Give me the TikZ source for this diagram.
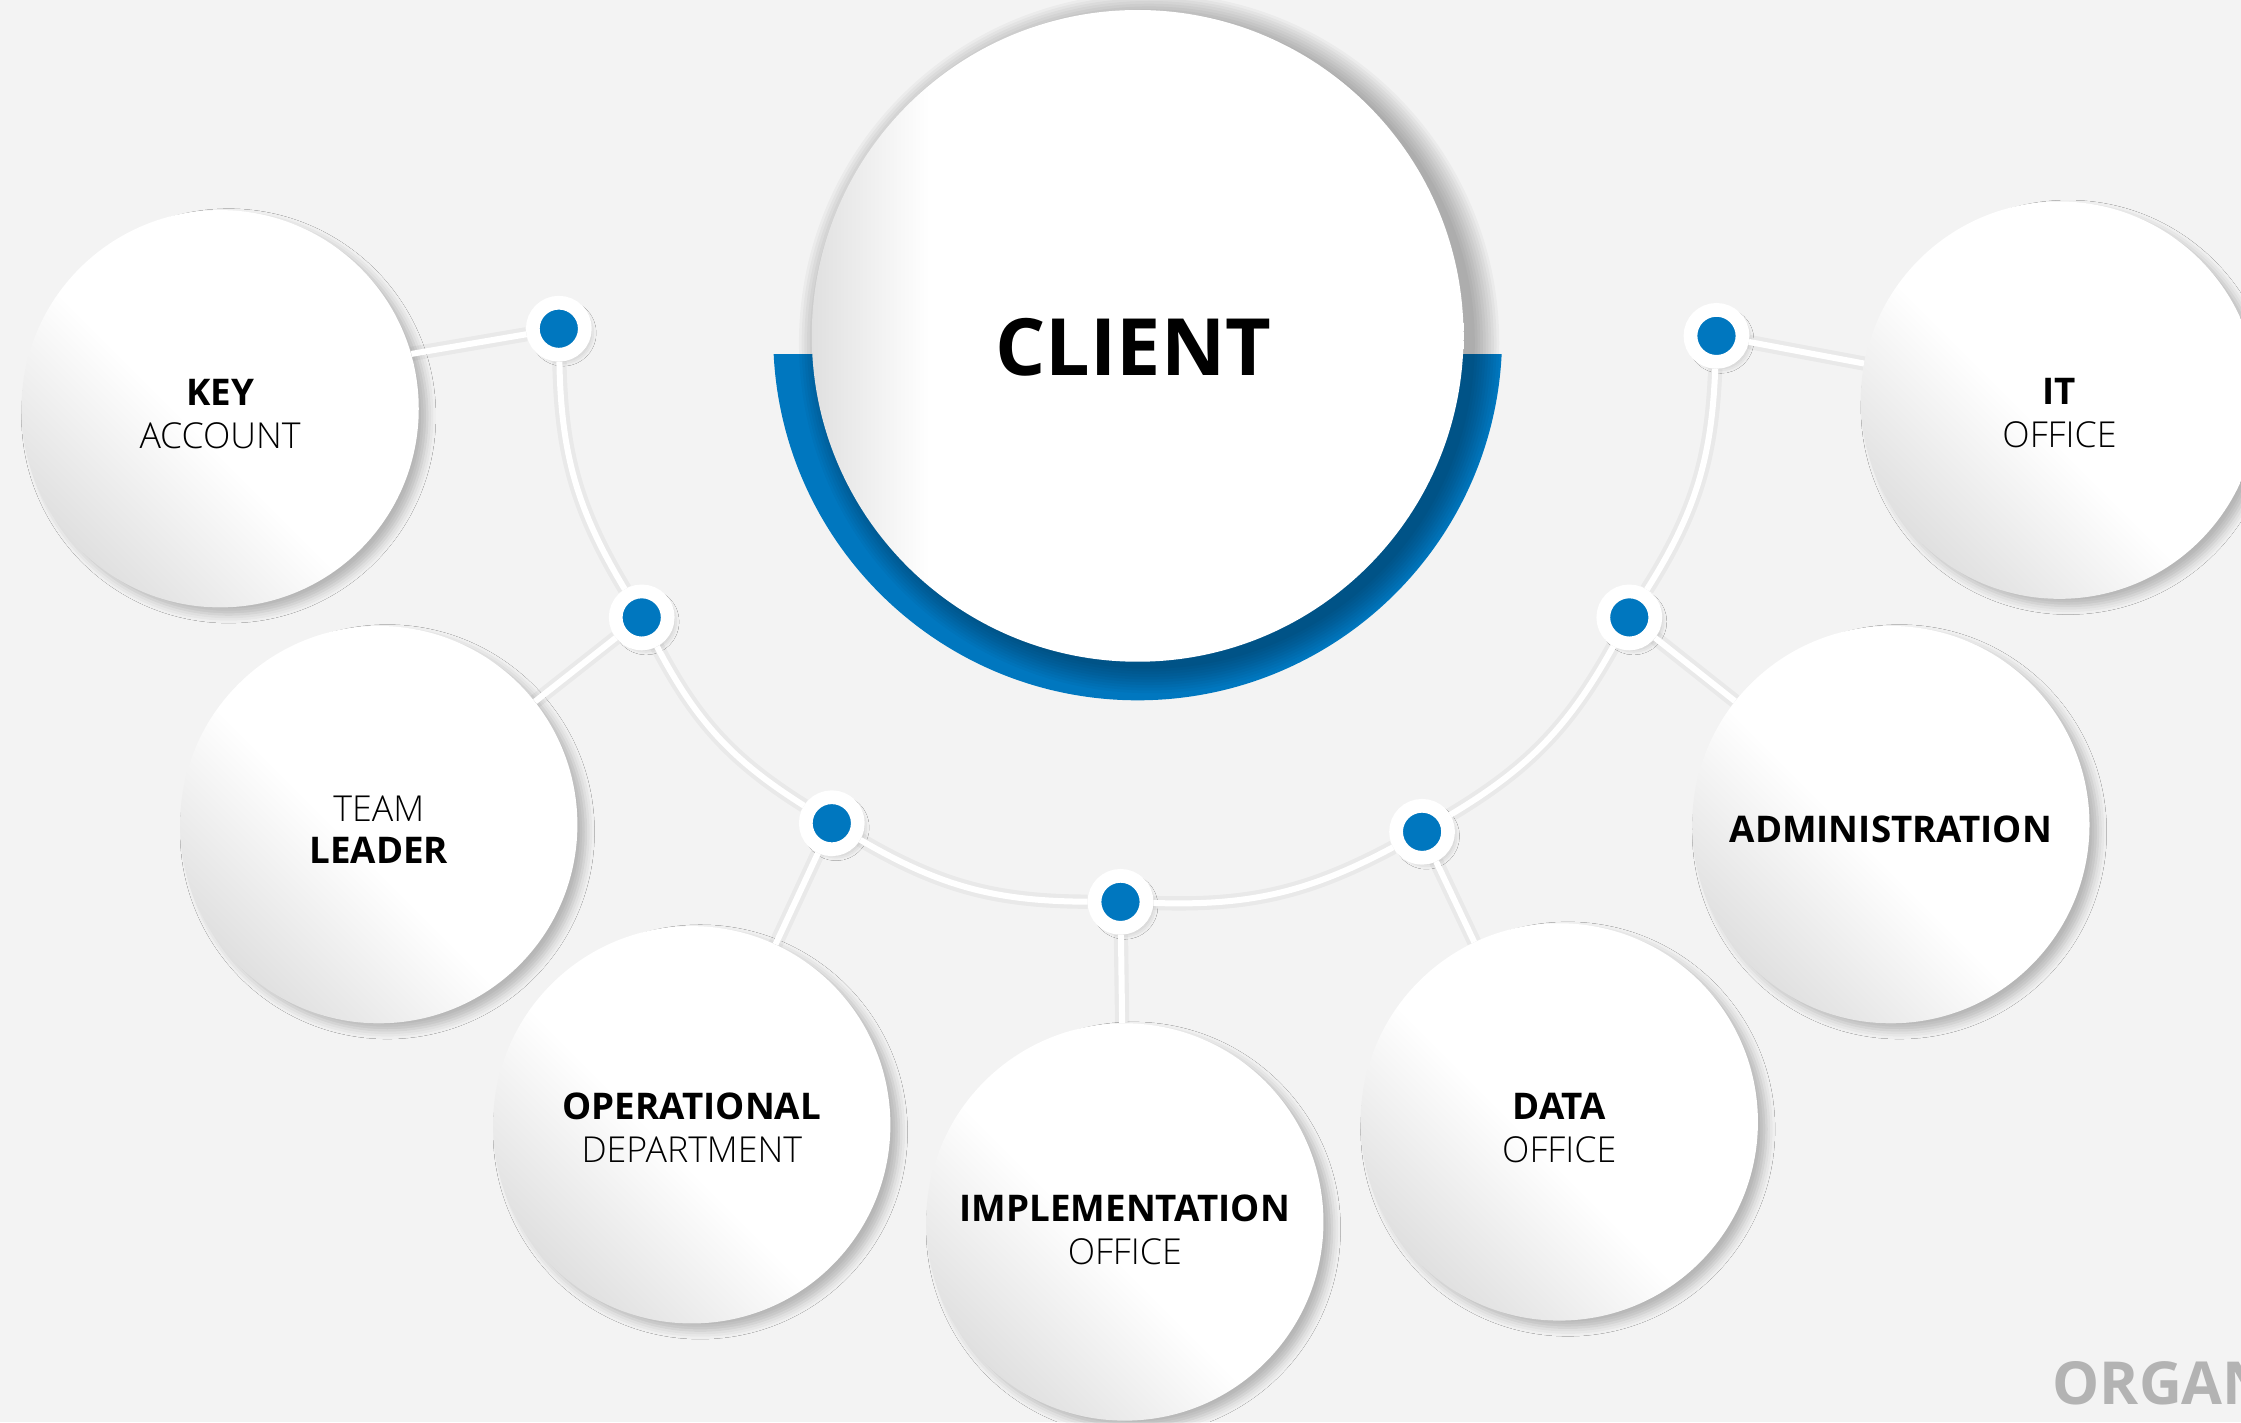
\documentclass[tikz,border=0pt]{standalone}
\usepackage{fontspec}
\setmainfont{Open Sans}
\IfFontExistsTF{Open Sans Light}{\newfontfamily\lightfont{Open Sans Light}}{\newfontfamily\lightfont{Open Sans}}
\usepackage{tikz}
\usetikzlibrary{shadows.blur}
\usepackage{color}

\definecolor{bgcol}{HTML}{F3F3F3}
\definecolor{ringblue}{HTML}{0077BF}
\definecolor{bubgray}{HTML}{E0E0E0}
\definecolor{orggray}{HTML}{B3B3B3}
\pgfdeclarehorizontalshading{bubfill}{100bp}{color(0bp)=(bubgray); color(25bp)=(bubgray); color(46bp)=(white); color(100bp)=(white)}
\pgfdeclarehorizontalshading{clientfill}{100bp}{color(0bp)=(bubgray); color(25bp)=(bubgray); color(34bp)=(white); color(100bp)=(white)}

\tikzset{
  bubble/.style={circle, minimum size=278pt, inner sep=0pt, shading=bubfill, shading angle=45,
    align=center, font=\fontsize{25.7}{30}\selectfont, text height=55pt, text depth=0pt,
    blur shadow={shadow xshift=6pt, shadow yshift=-5pt, shadow blur radius=6pt, shadow opacity=25}},
  client/.style={circle, minimum size=456pt, inner sep=0pt, shading=clientfill,
    font=\bfseries\fontsize{55.3}{60}\selectfont, text height=56pt, text depth=0pt},
  dot/.style={circle, fill=ringblue, draw=white, line width=9.6pt, minimum size=36.4pt, inner sep=0pt,
    blur shadow={shadow xshift=3pt, shadow yshift=-3pt, shadow blur radius=5pt, shadow opacity=30}},
  link/.style={draw=white, line width=4.2pt,
    preaction={draw=black, draw opacity=0.04, line width=10pt}},
}
\newcommand\lt[1]{{\lightfont\fontsize{25}{30}\selectfont #1}}

\begin{document}
\begin{tikzpicture}[x=1pt,y=1pt]
\useasboundingbox (0,0) rectangle (1568,-995);
\fill[bgcol] (0,0) rectangle (1568,-995);

\coordinate (c0) at (796,-235);

%Shape: Blue ring
\begin{scope}
\clip (500,-248) rectangle (1100,-520);
\fill[ringblue] (c0) circle (255);
\end{scope}

%Shape: Shadow of the client circle
\foreach \k in {0,...,9}
  \fill[black, opacity=0.03] ([shift={(8,-5)}]c0) circle ({245-1.9*\k});

%Shape: Circle (client)
\node[client] (client) at (c0) {CLIENT\hspace*{6pt}};

%Shape: Circles
\node[bubble] (key) at (154,-286) {\textbf{KEY}\\\lt{ACCOUNT}};
\node[bubble] (team) at (265,-577) {\lt{TEAM}\\\textbf{LEADER}};
\node[bubble, text height=53pt] (oper) at (484,-787) {\textbf{OPERATIONAL}\\\lt{DEPARTMENT}};
\node[bubble, text height=59pt] (impl) at (787,-855) {\textbf{IMPLEMENTATION}\\\lt{OFFICE}};
\node[bubble, text height=57pt] (data) at (1091,-785) {\textbf{DATA}\\\lt{OFFICE}};
\node[bubble, text height=25pt] (admin) at (1323,-577) {\textbf{ADMINISTRATION}};
\node[bubble, text height=66pt] (itoff) at (1441,-280) {\textbf{IT}\\\lt{OFFICE}};

%Shape: Dots
\node[dot] (p1) at (391,-230) {};
\node[dot] (p2) at (449,-432) {};
\node[dot] (p3) at (582,-576) {};
\node[dot] (p4) at (784,-631) {};
\node[dot] (p5) at (995,-582) {};
\node[dot] (p6) at (1140,-432) {};
\node[dot] (p7) at (1201,-235) {};

%Curved Lines
\draw[link] (p1) to[bend right=15] (p2);
\draw[link] (p2) to[bend right=15] (p3);
\draw[link] (p3) to[bend right=15] (p4);
\draw[link] (p4) to[bend right=15] (p5);
\draw[link] (p5) to[bend right=15] (p6);
\draw[link] (p6) to[bend right=15] (p7);
%Straight Lines
\draw[link] (p1) -- (key.16);
\draw[link] (p2) -- (team);
\draw[link] (p3) -- (oper);
\draw[link] (p4) -- (impl);
\draw[link] (p5) -- (data);
\draw[link] (p6) -- (admin);
\draw[link] (p7) -- (itoff);

% Text Node
\node[anchor=base west, inner sep=0pt, text=orggray, font=\bfseries\fontsize{41.5}{45}\selectfont] (org) at (1436,-982.4) {ORGAN};

\end{tikzpicture}
\end{document}
